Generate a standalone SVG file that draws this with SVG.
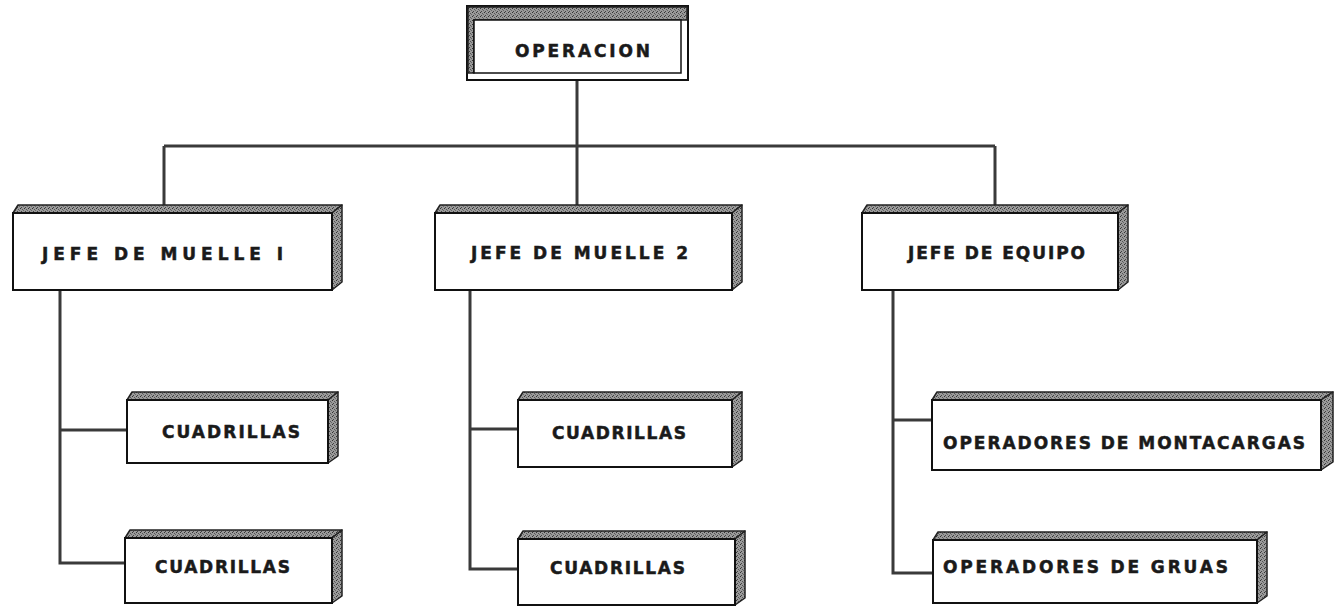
<svg xmlns="http://www.w3.org/2000/svg" width="1339" height="606" viewBox="0 0 1339 606">
<defs>
<pattern id="speck" width="4" height="4" patternUnits="userSpaceOnUse">
<rect width="4" height="4" fill="#9a9a9a"/>
<rect x="0" y="0" width="1" height="1" fill="#333"/>
<rect x="2" y="1" width="1" height="1" fill="#555"/>
<rect x="1" y="3" width="1" height="1" fill="#444"/>
<rect x="3" y="2" width="1" height="1" fill="#666"/>
</pattern>
</defs>
<style>
.front{fill:#fff;stroke:#111;stroke-width:2}
.face{fill:url(#speck);stroke:#222;stroke-width:1.5;stroke-linejoin:round}
.lbl{font-family:"DejaVu Sans","Liberation Sans",sans-serif;font-weight:bold;font-size:17px;fill:#1a1a1a;stroke:#1a1a1a;stroke-width:0.5;text-anchor:start;dominant-baseline:central}
.conn{fill:none;stroke:#3a3a3a;stroke-width:3;stroke-linejoin:miter}
</style>
<rect width="1339" height="606" fill="#fff"/>
<g id="connectors">
<path class="conn" d="M577 80 V146 M164 146 H995 M164 146 V206 M577 146 V206 M995 146 V206"/>
<path class="conn" d="M60 290 V563 H127 M60 430 H127"/>
<path class="conn" d="M470 290 V569 H518 M470 429 H518"/>
<path class="conn" d="M893 290 V573 H933 M893 420 H932"/>
</g>
<g id="operacion">
<rect x="467" y="6" width="221" height="74" fill="#fff" stroke="#111" stroke-width="2"/>
<path class="face" d="M468 7 H687 V20 H474 V73 H468 Z" stroke="none"/>
<rect x="474" y="20" width="207" height="53" fill="#fff" stroke="#111" stroke-width="1.5"/>
<text class="lbl" x="515" y="51" textLength="135" lengthAdjust="spacing">OPERACION</text>
</g>
<g id="jefe1">
<path class="face" d="M13 213 L18 205 H342 L332 213 Z"/>
<path class="face" d="M332 213 L342 205 V282 L332 290 Z"/>
<rect class="front" x="13" y="213" width="319" height="77"/>
<text class="lbl" x="42" y="254" textLength="241" lengthAdjust="spacing">JEFE DE MUELLE I</text>
</g>
<g id="jefe2">
<path class="face" d="M435 213 L440 205 H742 L732 213 Z"/>
<path class="face" d="M732 213 L742 205 V282 L732 290 Z"/>
<rect class="front" x="435" y="213" width="297" height="77"/>
<text class="lbl" x="471" y="253" textLength="217" lengthAdjust="spacing">JEFE DE MUELLE 2</text>
</g>
<g id="jefe3">
<path class="face" d="M862 213 L867 205 H1128 L1118 213 Z"/>
<path class="face" d="M1118 213 L1128 205 V282 L1118 290 Z"/>
<rect class="front" x="862" y="213" width="256" height="77"/>
<text class="lbl" x="908" y="253" textLength="177" lengthAdjust="spacing">JEFE DE EQUIPO</text>
</g>
<g id="cuad1">
<path class="face" d="M127 400 L132 392 H338 L328 400 Z"/>
<path class="face" d="M328 400 L338 392 V456 L328 463 Z"/>
<rect class="front" x="127" y="400" width="201" height="63"/>
<text class="lbl" x="162" y="432" textLength="138" lengthAdjust="spacing">CUADRILLAS</text>
</g>
<g id="cuad2">
<path class="face" d="M125 538 L130 530 H342 L332 538 Z"/>
<path class="face" d="M332 538 L342 530 V596 L332 603 Z"/>
<rect class="front" x="125" y="538" width="207" height="65"/>
<text class="lbl" x="155" y="567" textLength="135" lengthAdjust="spacing">CUADRILLAS</text>
</g>
<g id="cuad3">
<path class="face" d="M518 400 L523 392 H742 L732 400 Z"/>
<path class="face" d="M732 400 L742 392 V460 L732 467 Z"/>
<rect class="front" x="518" y="400" width="214" height="67"/>
<text class="lbl" x="552" y="433" textLength="134" lengthAdjust="spacing">CUADRILLAS</text>
</g>
<g id="cuad4">
<path class="face" d="M518 539 L523 531 H745 L735 539 Z"/>
<path class="face" d="M735 539 L745 531 V598 L735 605 Z"/>
<rect class="front" x="518" y="539" width="217" height="66"/>
<text class="lbl" x="550" y="568" textLength="135" lengthAdjust="spacing">CUADRILLAS</text>
</g>
<g id="montacargas">
<path class="face" d="M932 400 L937 392 H1333 L1321 400 Z"/>
<path class="face" d="M1321 400 L1333 392 V462 L1321 470 Z"/>
<rect class="front" x="932" y="400" width="389" height="70"/>
<text class="lbl" x="943" y="443" textLength="362" lengthAdjust="spacing">OPERADORES DE MONTACARGAS</text>
</g>
<g id="gruas">
<path class="face" d="M933 540 L938 532 H1267 L1257 540 Z"/>
<path class="face" d="M1257 540 L1267 532 V596 L1257 603 Z"/>
<rect class="front" x="933" y="540" width="324" height="63"/>
<text class="lbl" x="943" y="567" textLength="285" lengthAdjust="spacing">OPERADORES DE GRUAS</text>
</g>
</svg>
